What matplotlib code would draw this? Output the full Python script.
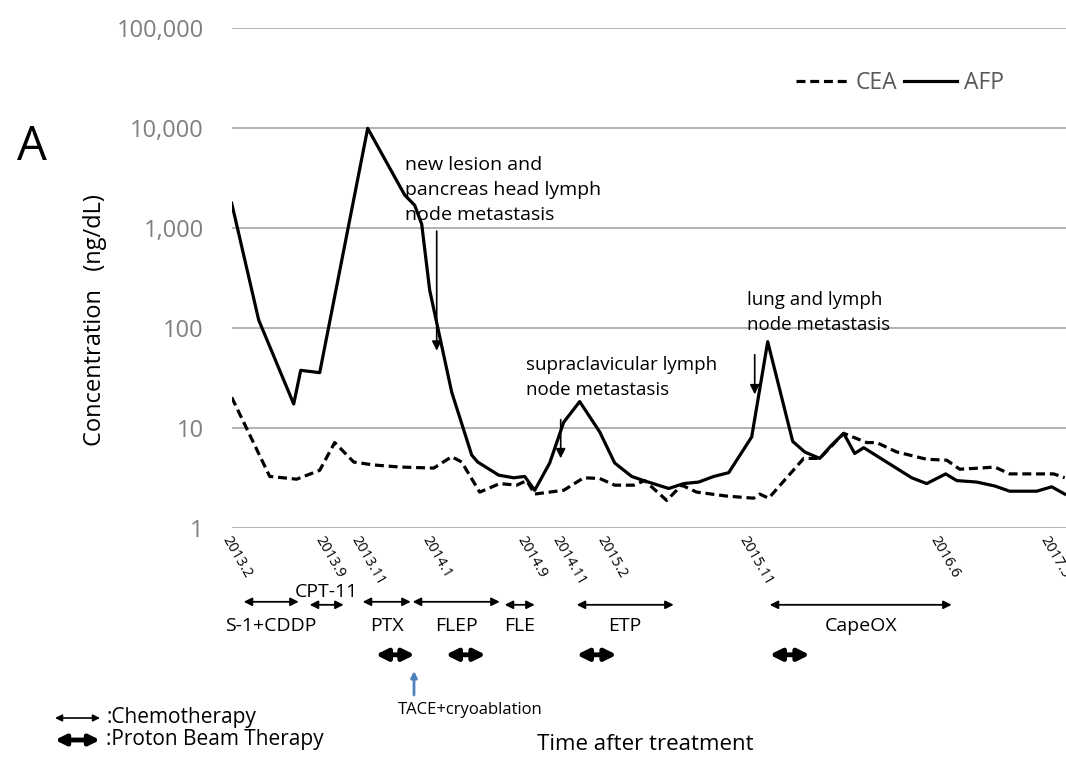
import matplotlib
matplotlib.use("Agg")
import matplotlib.pyplot as plt
from matplotlib.patches import FancyArrowPatch
from matplotlib.ticker import FuncFormatter

plt.rcParams['font.family'] = ['Open Sans', 'DejaVu Sans']

# time after start of treatment (arbitrary chart units) and marker values
afp_t = [0.0, 2.7, 6.2, 6.9, 8.8, 13.6, 17.3, 18.3, 19.0, 19.8, 22.0, 24.0, 24.6, 26.7,
         28.2, 29.3, 30.3, 31.8, 33.2, 34.8, 36.8, 38.3, 40.0, 41.2, 43.7, 45.2, 46.7,
         48.2, 49.7, 52.0, 53.6, 56.1, 57.3, 58.8, 60.0, 61.2, 62.3, 63.2, 68.0, 69.5,
         71.4, 72.5, 74.5, 76.3, 77.8, 80.5, 82.0, 83.3]
afp = [1780, 121, 17.5, 38, 36, 10000, 2150, 1700, 1100, 240, 23, 5.4, 4.6, 3.4,
       3.2, 3.3, 2.4, 4.5, 11.5, 18.5, 9.2, 4.5, 3.3, 3.0, 2.5, 2.8, 2.9,
       3.3, 3.6, 8.2, 73.5, 7.4, 5.8, 5.0, 6.8, 8.9, 5.6, 6.4, 3.2, 2.8,
       3.5, 3.0, 2.9, 2.65, 2.35, 2.35, 2.6, 2.2]

cea_t = [0.0, 3.8, 6.5, 8.8, 10.3, 12.2, 14.2, 16.8, 20.2, 22.0, 23.0, 24.8, 26.8,
         28.5, 29.5, 30.3, 33.2, 35.2, 36.8, 38.3, 40.2, 41.3, 43.5, 45.0, 46.5, 49.5,
         52.2, 52.8, 53.7, 57.2, 58.8, 61.2, 63.5, 64.5, 66.5, 69.5, 71.5, 72.8, 74.8,
         76.3, 77.8, 82.2, 83.3]
cea = [20.4, 3.3, 3.1, 3.8, 7.2, 4.6, 4.3, 4.1, 4.0, 5.2, 4.6, 2.3, 2.8,
       2.7, 3.0, 2.2, 2.4, 3.2, 3.15, 2.7, 2.7, 3.0, 1.9, 2.7, 2.3, 2.1,
       2.0, 2.2, 2.0, 5.0, 5.0, 8.9, 7.2, 7.2, 5.8, 4.9, 4.8, 3.9, 4.0,
       4.1, 3.5, 3.5, 3.2]

date_t = [0.0, 9.3, 12.9, 20.0, 29.5, 33.0, 37.5, 51.7, 70.8, 81.8]
date_lbl = ['2013.2', '2013.9', '2013.11', '2014.1', '2014.9', '2014.11', '2015.2',
            '2015.11', '2016.6', '2017.5']

chemo_names = ['S-1+CDDP', 'CPT-11', 'PTX', 'FLEP', 'FLE', 'ETP', 'CapeOX']
chemo_start = [1.2, 7.8, 13.1, 18.1, 27.3, 34.5, 53.8]
chemo_end = [6.7, 11.2, 17.9, 26.8, 30.3, 44.2, 72.0]
proton_start = [14.4, 21.4, 34.5, 53.8]
proton_end = [18.3, 25.4, 38.5, 57.8]

W, H = 1066, 766
fig = plt.figure(figsize=(W / 100, H / 100), dpi=100)
ax = fig.add_axes([231.7 / W, 1 - 528.3 / H, (W - 231.7) / W, 500 / H])

def fp(x, y):
    return (x / W, 1 - y / H)

ax.plot(cea_t, cea, color='black', lw=2.3, dashes=(2.8, 1.5), label='CEA')
ax.plot(afp_t, afp, color='black', lw=2.3, label='AFP')

ax.set_yscale('log')
ax.set_ylim(1, 100000)
ax.set_xlim(0, (W - 231.7) / 10)
ax.yaxis.set_major_formatter(FuncFormatter(lambda v, p: f'{v:,.0f}'))
ax.yaxis.set_minor_locator(plt.NullLocator())
ax.grid(axis='y', color='#a6a6a6', lw=1.2)
ax.set_axisbelow(True)
for s in ax.spines.values():
    s.set_visible(False)
ax.tick_params(axis='y', length=0, pad=20, labelsize=17, labelcolor='#7f7f7f')
ax.set_xticks(date_t)
ax.set_xticklabels(date_lbl, rotation=-60, ha='left', va='top', rotation_mode='anchor',
                   fontsize=10.5)
ax.tick_params(axis='x', length=0, pad=4)

ax.legend(loc='center right', bbox_to_anchor=(0.95, 0.89), ncol=2, frameon=False, fontsize=16.5,
          handlelength=2.3, columnspacing=0.3, handletextpad=0.3, labelcolor='#595959')

# event annotations
xt = ax.get_xaxis_transform()
ax.text(17.3, 0.745, 'new lesion and\npancreas head lymph\nnode metastasis', transform=xt,
        fontsize=14, va='top', ha='left', linespacing=1.5)
ax.annotate('', xy=(20.5, 56), xytext=(20.5, 1000),
            arrowprops=dict(arrowstyle='-|>', lw=1.2, color='black', mutation_scale=14))
ax.text(29.4, 0.345, 'supraclavicular lymph\nnode metastasis', transform=xt,
        fontsize=13.5, va='top', ha='left', linespacing=1.5)
ax.annotate('', xy=(32.9, 4.7), xytext=(32.9, 13),
            arrowprops=dict(arrowstyle='-|>', lw=1.2, color='black', mutation_scale=14))
ax.text(51.5, 0.475, 'lung and lymph\nnode metastasis', transform=xt,
        fontsize=13.5, va='top', ha='left', linespacing=1.5)
ax.annotate('', xy=(52.3, 20.5), xytext=(52.3, 58),
            arrowprops=dict(arrowstyle='-|>', lw=1.2, color='black', mutation_scale=14))

# treatment periods below the axis
for name, a, b in zip(chemo_names, chemo_start, chemo_end):
    yy = -0.153 if name in ('CPT-11', 'FLE', 'ETP', 'CapeOX') else -0.147
    ax.annotate('', xy=(b, yy), xytext=(a, yy), xycoords=xt, textcoords=xt, annotation_clip=False,
                arrowprops=dict(arrowstyle='<|-|>', lw=1.3, color='black', mutation_scale=12,
                                shrinkA=0, shrinkB=0))
    ty = -0.127 if name == 'CPT-11' else -0.195
    ax.text((a + b) / 2, ty, name, transform=xt, ha='center', va='center', fontsize=14)
for a, b in zip(proton_start, proton_end):
    ax.annotate('', xy=(b, -0.253), xytext=(a, -0.253), xycoords=xt, textcoords=xt,
                annotation_clip=False,
                arrowprops=dict(arrowstyle='<|-|>', lw=3.5, color='black', mutation_scale=17,
                                shrinkA=0, shrinkB=0))

# TACE arrow
fig.add_artist(FancyArrowPatch(fp(414, 695), fp(414, 671), transform=fig.transFigure,
                               arrowstyle='-|>', mutation_scale=9, lw=2, color='#4f81bd',
                               shrinkA=0, shrinkB=0))
fig.text(*fp(398, 710), 'TACE+cryoablation', fontsize=12, va='center', ha='left')

# key
fig.add_artist(FancyArrowPatch(fp(55, 718), fp(100, 718), transform=fig.transFigure,
                               arrowstyle='<|-|>', mutation_scale=10, lw=1.2, color='black',
                               shrinkA=0, shrinkB=0))
fig.add_artist(FancyArrowPatch(fp(55, 740), fp(100, 740), transform=fig.transFigure,
                               arrowstyle='<|-|>', mutation_scale=15, lw=3.5, color='black',
                               shrinkA=0, shrinkB=0))
fig.text(*fp(106, 718), ':Chemotherapy', fontsize=15, va='center', ha='left')
fig.text(*fp(106, 740), ':Proton Beam Therapy', fontsize=15, va='center', ha='left')

fig.text(*fp(645, 745), 'Time after treatment', fontsize=16, va='center', ha='center')
fig.text(*fp(95, 320), 'Concentration   (ng/dL)', fontsize=17, rotation=90, va='center', ha='center')
fig.text(*fp(32, 147), 'A', fontsize=34, va='center', ha='center')

fig.savefig('out.png', dpi=100)
